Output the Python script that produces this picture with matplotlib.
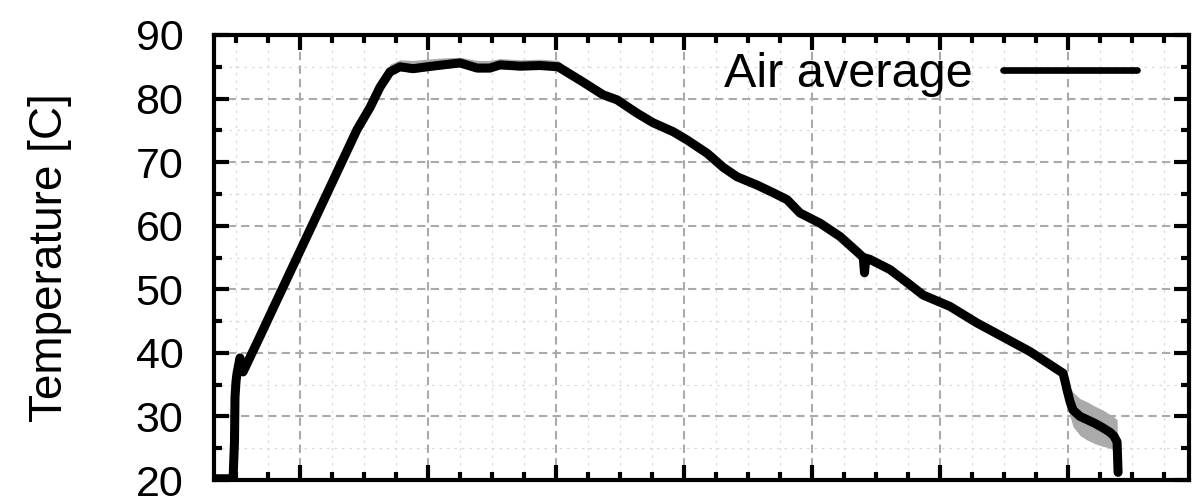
import matplotlib
matplotlib.use("Agg")
import matplotlib.pyplot as plt
from matplotlib.ticker import MultipleLocator, NullFormatter

# Elapsed time [h] and averaged air temperature [C]
time_h = [-0.672, -0.523, -0.512, -0.508, -0.500, -0.492, -0.469, -0.445,
          -0.3125, -0.180, 0.445, 0.547, 0.625, 0.703, 0.781, 0.883,
          0.992, 1.117, 1.250, 1.383, 1.484, 1.5625, 1.719, 1.875,
          2.016, 2.211, 2.367, 2.477, 2.633, 2.758, 2.914, 3.023,
          3.180, 3.305, 3.414, 3.570, 3.695, 3.805, 3.906, 4.0625,
          4.219, 4.352, 4.400, 4.410, 4.420, 4.453, 4.609, 4.766,
          4.867, 5.078, 5.289, 5.492, 5.703, 5.961, 5.977, 5.992,
          6.016, 6.039, 6.094, 6.148, 6.211, 6.273, 6.328, 6.359,
          6.383, 6.391]
air_mean = [20.2, 20.2, 26.0, 33.0, 35.5, 36.8, 39.2, 37.0,
            42.6, 48.3, 75.1, 78.6, 81.8, 84.2, 85.0, 84.7,
            85.0, 85.3, 85.6, 84.8, 84.8, 85.3, 85.1, 85.2,
            85.0, 82.6, 80.6, 79.8, 77.7, 76.2, 74.8, 73.5,
            71.4, 69.2, 67.7, 66.4, 65.2, 64.1, 62.0, 60.4,
            58.3, 55.9, 55.0, 52.6, 54.9, 54.7, 53.1, 50.7,
            49.1, 47.3, 44.7, 42.5, 40.2, 36.8, 35.5, 34.2,
            32.3, 31.0, 30.0, 29.5, 28.9, 28.2, 27.5, 26.9,
            26.0, 21.2]
# Spread between the individual air sensors (min / max envelope)
air_min = [20.2, 20.2, 25.5, 32.5, 35.0, 36.4, 38.7, 36.6,
           42.2, 47.9, 74.7, 78.1, 81.2, 83.7, 84.4, 84.1,
           84.4, 84.7, 85.0, 84.2, 84.2, 84.7, 84.5, 84.6,
           84.5, 82.2, 80.2, 79.4, 77.3, 75.8, 74.4, 73.1,
           71.0, 68.8, 67.3, 66.0, 64.8, 63.7, 61.6, 60.0,
           57.9, 55.5, 54.6, 51.2, 54.5, 54.3, 52.7, 50.3,
           48.7, 46.9, 44.3, 42.1, 39.8, 36.4, 34.0, 32.5,
           30.0, 28.4, 27.0, 26.3, 25.7, 25.3, 25.0, 24.7,
           24.5, 21.2]
air_max = [20.2, 20.2, 26.5, 33.5, 36.0, 37.2, 39.6, 37.4,
           43.0, 48.7, 75.5, 79.2, 82.6, 85.4, 86.1, 86.0,
           86.2, 86.4, 86.5, 86.0, 86.0, 86.3, 86.1, 86.2,
           86.0, 83.0, 81.0, 80.2, 78.1, 76.6, 75.2, 73.9,
           71.8, 69.6, 68.1, 66.8, 65.6, 64.5, 62.4, 60.8,
           58.7, 56.3, 55.4, 55.0, 55.3, 55.1, 53.5, 51.1,
           49.5, 47.7, 45.1, 42.9, 40.6, 37.0, 36.3, 35.8,
           34.6, 33.8, 32.8, 32.3, 31.6, 31.0, 30.3, 29.9,
           29.5, 21.2]

series_label = "Air average"
y_label = "Temperature [C]"

plt.rcParams["font.family"] = ["Liberation Sans", "DejaVu Sans"]

fig = plt.figure(figsize=(11.95, 5.01), dpi=100)
ax = fig.add_axes([214 / 1195, 1 - 480 / 501, 975 / 1195, 445 / 501])

ax.fill_between(time_h, air_min, air_max, color="#a9aaa9", lw=0, zorder=2)
ax.plot(time_h, air_mean, color="black", lw=6.5, solid_capstyle="round",
        solid_joinstyle="round", zorder=3, label=series_label)

ax.set_xlim(-0.672, 6.945)
ax.set_ylim(20, 90)
ax.xaxis.set_major_locator(MultipleLocator(1))
ax.xaxis.set_minor_locator(MultipleLocator(0.25))
ax.yaxis.set_major_locator(MultipleLocator(10))
ax.yaxis.set_minor_locator(MultipleLocator(5))
ax.xaxis.set_major_formatter(NullFormatter())

ax.grid(which="major", color="#aaaaaa", lw=1.5, ls=(0, (4, 2.5)), zorder=0)
ax.grid(which="minor", color="#d9d9d9", lw=0.9, ls=(0, (2, 4)), zorder=0)
ax.set_axisbelow(True)

for s in ax.spines.values():
    s.set_linewidth(3)
ax.tick_params(which="both", direction="in", top=True, right=True,
               width=3, labelsize=31, pad=22)
ax.tick_params(which="major", length=11)
ax.tick_params(which="minor", length=6)

ax.set_ylabel(y_label, fontsize=33, labelpad=46)

leg = ax.legend(loc="upper right", bbox_to_anchor=(0.9467, 0.962),
                frameon=False, markerfirst=False, fontsize=35,
                handlelength=2.75, handletextpad=0.62, borderpad=0,
                borderaxespad=0)
leg.get_lines()[0].set_linewidth(4.8)

fig.savefig("out.png", dpi=100)
